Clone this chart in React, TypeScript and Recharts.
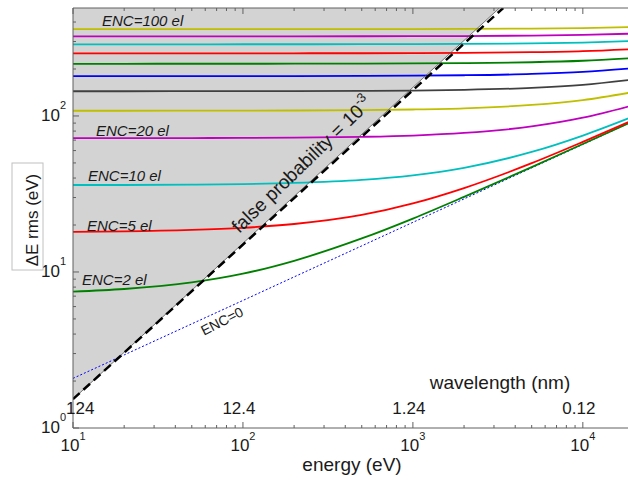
import { Area, ComposedChart, Line, XAxis, YAxis } from 'recharts';

// energy samples (eV) and rms resolution (eV) for each ENC level
const energy = [10, 20, 50, 100, 200, 500, 1000, 2000, 5000, 10000, 20000];
const enc0 = [2.08, 2.94, 4.65, 6.57, 9.3, 14.7, 20.8, 29.4, 46.5, 65.7, 93.0];
const enc2 = [7.49, 7.78, 8.57, 9.75, 11.8, 16.4, 22.0, 30.3, 47.0, 66.1, 93.2];
const enc5 = [18.1, 18.2, 18.6, 19.2, 20.3, 23.2, 27.5, 34.5, 49.8, 68.2, 94.7];
const enc10 = [36.1, 36.1, 36.3, 36.6, 37.2, 38.9, 41.6, 46.5, 58.8, 74.9, 99.7];
const enc20 = [72.0, 72.1, 72.2, 72.3, 72.6, 73.5, 74.9, 77.8, 85.7, 97.5, 117.6];
const enc30 = [108.0, 108.0, 108.1, 108.2, 108.4, 109.0, 110.0, 111.9, 117.6, 126.4, 142.5];
const enc40 = [144.0, 144.0, 144.1, 144.2, 144.3, 144.8, 145.5, 147.0, 151.3, 158.3, 171.4];
const enc50 = [180.0, 180.0, 180.1, 180.1, 180.2, 180.6, 181.2, 182.4, 185.9, 191.6, 202.6];
const enc60 = [216.0, 216.0, 216.1, 216.1, 216.2, 216.5, 217.0, 218.0, 220.9, 225.8, 235.2];
const enc70 = [252.0, 252.0, 252.0, 252.1, 252.2, 252.4, 252.9, 253.7, 256.3, 260.4, 268.6];
const enc80 = [288.0, 288.0, 288.0, 288.1, 288.2, 288.4, 288.8, 289.5, 291.7, 295.4, 302.6];
const enc90 = [324.0, 324.0, 324.0, 324.1, 324.1, 324.3, 324.7, 325.3, 327.3, 330.6, 337.1];
const enc100 = [360.0, 360.0, 360.0, 360.1, 360.1, 360.3, 360.6, 361.2, 363.0, 366.0, 371.8];

// false probability = 1e-3 threshold (shaded edge and dashed line)
const edgeEnergy = [10, 3230];
const edgeValue = [1.53, 492];
const dashEnergy = [10, 3400];
const dashValue = [1.53, 492];

// axis ticks
const xMajor = [10, 100, 1000, 10000];
const xMajorExp = ['1', '2', '3', '4'];
const wavelengthLabels = ['124', '12.4', '1.24', '0.12'];
const yMajor = [1, 10, 100];
const yMajorExp = ['0', '1', '2'];

const xTicks: number[] = [];
xMajor.forEach((m) => [1, 2, 3, 4, 5, 6, 7, 8, 9].forEach((k) => xTicks.push(m * k)));
const yTicks: number[] = [];
yMajor.forEach((m) => [1, 2, 3, 4, 5, 6, 7, 8, 9].forEach((k) => m * k < 492 && yTicks.push(m * k)));

const series = [
  { key: 'enc2', values: enc2, color: '#008000' },
  { key: 'enc5', values: enc5, color: '#ff0000' },
  { key: 'enc10', values: enc10, color: '#00bfbf' },
  { key: 'enc20', values: enc20, color: '#bf00bf' },
  { key: 'enc30', values: enc30, color: '#bfbf00' },
  { key: 'enc40', values: enc40, color: '#404040' },
  { key: 'enc50', values: enc50, color: '#0000ff' },
  { key: 'enc60', values: enc60, color: '#008000' },
  { key: 'enc70', values: enc70, color: '#ff0000' },
  { key: 'enc80', values: enc80, color: '#00bfbf' },
  { key: 'enc90', values: enc90, color: '#bf00bf' },
  { key: 'enc100', values: enc100, color: '#bfbf00' },
];

const rows = energy.map((e, i) => {
  const row: Record<string, number> = { e, enc0: enc0[i] };
  series.forEach((s) => (row[s.key] = s.values[i]));
  return row;
});
const edgeRows = edgeEnergy.map((e, i) => ({ e, band: [edgeValue[i], 492], edge: edgeValue[i] }));
const dashRows = dashEnergy.map((e, i) => ({ e, v: dashValue[i] }));

const font = "'Liberation Sans', Arial, sans-serif";
const axisColor = '#606060';
const textColor = '#1a1a1a';

const bottomTick = (props: any) => {
  const { x, y, payload } = props;
  const i = xMajor.indexOf(payload.value);
  const major = i >= 0;
  return (
    <g>
      <line x1={x} x2={x} y1={y} y2={y - (major ? 6 : 3)} stroke={axisColor} />
      {major && (
        <text x={x} y={y + 23} textAnchor="middle" fontFamily={font} fontSize={17} fill={textColor}>
          <tspan>10</tspan>
          <tspan dy={-11} fontSize={11}>{xMajorExp[i]}</tspan>
        </text>
      )}
      {major && (
        <text
          x={i === 0 ? x - 7 : x - 4}
          y={y - 14}
          textAnchor={i === 0 ? 'start' : 'middle'}
          fontFamily={font}
          fontSize={17}
          fill={textColor}
        >
          {wavelengthLabels[i]}
        </text>
      )}
    </g>
  );
};

const topTick = (props: any) => {
  const { x, y, payload } = props;
  const major = xMajor.includes(payload.value);
  return <line x1={x} x2={x} y1={y} y2={y + (major ? 6 : 3)} stroke={axisColor} />;
};

const leftTick = (props: any) => {
  const { x, y, payload } = props;
  const i = yMajor.indexOf(payload.value);
  const major = i >= 0;
  return (
    <g>
      <line x1={x} x2={x + (major ? 6 : 3)} y1={y} y2={y} stroke={axisColor} />
      {major && (
        <text x={x - 7} y={y + 5} textAnchor="end" fontFamily={font} fontSize={17} fill={textColor}>
          <tspan>10</tspan>
          <tspan dy={-12} fontSize={11}>{yMajorExp[i]}</tspan>
        </text>
      )}
    </g>
  );
};

const encLabels = [
  { text: 'ENC=100 el', x: 102, y: 26 },
  { text: 'ENC=20 el', x: 96, y: 136 },
  { text: 'ENC=10 el', x: 88, y: 181 },
  { text: 'ENC=5 el', x: 87, y: 231 },
  { text: 'ENC=2 el', x: 82, y: 285 },
];

export default function App() {
  return (
    <div style={{ position: 'absolute', left: 0, top: 0, width: 628, height: 482, overflow: 'hidden', background: '#fff' }}>
      <ComposedChart width={634} height={482} data={rows} margin={{ top: 7, right: 0, bottom: 0, left: 0 }}>
        <XAxis
          xAxisId="top"
          orientation="top"
          dataKey="e"
          type="number"
          scale="log"
          domain={[10, 20000]}
          allowDataOverflow
          ticks={xTicks}
          interval={0}
          height={1}
          tickSize={0}
          tickMargin={0}
          tick={topTick}
          axisLine={{ stroke: axisColor }}
        />
        <XAxis
          dataKey="e"
          type="number"
          scale="log"
          domain={[10, 20000]}
          allowDataOverflow
          ticks={xTicks}
          interval={0}
          height={54}
          tickSize={0}
          tickMargin={0}
          tick={bottomTick}
          axisLine={{ stroke: axisColor }}
        />
        <YAxis
          type="number"
          scale="log"
          domain={[1, 492]}
          allowDataOverflow
          ticks={yTicks}
          interval={0}
          width={73}
          tickSize={0}
          tickMargin={0}
          tick={leftTick}
          axisLine={{ stroke: axisColor }}
        />
        <Line
          dataKey="enc0"
          type="monotone"
          stroke="#0000ff"
          strokeWidth={1}
          strokeDasharray="2 2"
          dot={false}
          activeDot={false}
          isAnimationActive={false}
        />
        {series.map((s) => (
          <Line
            key={s.key}
            dataKey={s.key}
            type="monotone"
            stroke={s.color}
            strokeWidth={1.8}
            dot={false}
            activeDot={false}
            isAnimationActive={false}
          />
        ))}
        <Area
          data={edgeRows}
          dataKey="band"
          type="linear"
          fill="#ababab"
          fillOpacity={0.525}
          stroke="none"
          isAnimationActive={false}
        />
        <Line
          data={edgeRows}
          dataKey="edge"
          type="linear"
          stroke="#555555"
          strokeWidth={0.8}
          dot={false}
          activeDot={false}
          isAnimationActive={false}
        />
        <Line
          data={dashRows}
          dataKey="v"
          type="linear"
          stroke="#000000"
          strokeWidth={2.5}
          strokeDasharray="9 5"
          dot={false}
          activeDot={false}
          isAnimationActive={false}
        />
      </ComposedChart>
      <svg
        width={628}
        height={482}
        style={{ position: 'absolute', left: 0, top: 0, pointerEvents: 'none' }}
        fontFamily={font}
        fill={textColor}
      >
        {encLabels.map((l) => (
          <text key={l.text} x={l.x} y={l.y} fontSize={15} fontStyle="italic">
            {l.text}
          </text>
        ))}
        <text transform="translate(222,321) rotate(-27)" y={5} textAnchor="middle" fontSize={14}>
          ENC=0
        </text>
        <text transform="translate(302,165) rotate(-44)" y={6} textAnchor="middle" fontSize={19}>
          <tspan>false probability = 10</tspan>
          <tspan dy={-9} fontSize={13}>-3</tspan>
        </text>
        <rect x={12} y={163} width={31} height={107} fill="#ffffff" stroke="#c0c0c0" />
        <text transform="translate(38,220) rotate(-90)" textAnchor="middle" fontSize={17}>
          ΔE rms (eV)
        </text>
        <text x={352} y={471} textAnchor="middle" fontSize={19}>
          energy (eV)
        </text>
        <text x={500} y={389} textAnchor="middle" fontSize={19}>
          wavelength (nm)
        </text>
      </svg>
    </div>
  );
}
